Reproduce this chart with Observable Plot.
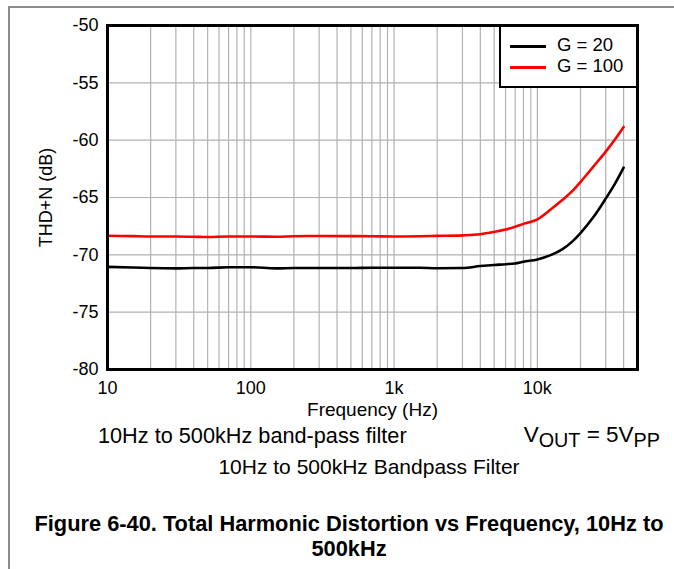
<!DOCTYPE html>
<html>
<head>
<meta charset="utf-8">
<script src="https://cdn.jsdelivr.net/npm/d3@7"></script>
<script src="https://cdn.jsdelivr.net/npm/@observablehq/plot@0.6"></script>
<style>
  body { margin: 0; background: #fff; font-family: "Liberation Sans", Arial, sans-serif; }
  #wrap { position: relative; width: 674px; height: 569px; overflow: hidden; background: #fff; }
  #border { position: absolute; left: 8px; top: 6px; right: -10px; bottom: -10px;
            border-top: 2px solid #8c8c8c; border-left: 2px solid #8c8c8c; }
  #chart { position: absolute; left: 0; top: 0; }
  .legend { position: absolute; left: 499px; top: 25px; width: 135px; height: 59px;
            border: 2px solid #000; background: #fff; }
  .legend .row { position: absolute; left: 0; height: 20px; width: 135px; }
  .legend .sw { position: absolute; left: 9px; width: 36px; height: 2.5px; top: 9px; }
  .legend .lab { position: absolute; left: 56px; top: -1px; font-size: 18.5px; line-height: 20px; color: #000; }
  .txt { position: absolute; color: #000; white-space: nowrap; }
  sub { font-size: 0.88em; vertical-align: -0.25em; }
</style>
</head>
<body>
<div id="wrap">
  <div id="border"></div>
  <div id="chart"></div>
  <div class="legend" id="legend"></div>
  <div class="txt" id="note1" style="left:98px; top:423px; font-size:21.7px;">10Hz to 500kHz band-pass filter</div>
  <div class="txt" id="note2" style="right:14px; top:422px; font-size:22.5px;">V<sub>OUT</sub> = 5V<sub>PP</sub></div>
  <div class="txt" id="note3" style="left:0; width:738px; text-align:center; top:455px; font-size:21px;">10Hz to 500kHz Bandpass Filter</div>
  <div class="txt" id="title" style="left:0; width:698px; text-align:center; top:511px; font-size:21.8px; font-weight:bold; line-height:25px;">Figure 6-40. Total Harmonic Distortion vs Frequency, 10Hz to<br>500kHz</div>
</div>
<script>
// ---- data ----
const freq = [10, 15, 20, 30, 40, 50, 70, 100, 150, 200, 300, 500, 700, 1000, 1500, 2000, 3000, 4000, 5000, 6000, 7000, 8000, 10000, 12500, 15000, 17500, 20000, 25000, 30000, 35000, 40000];
const thdG20 = [-71.05, -71.1, -71.15, -71.18, -71.15, -71.15, -71.08, -71.08, -71.18, -71.15, -71.15, -71.15, -71.12, -71.12, -71.12, -71.17, -71.15, -70.98, -70.88, -70.82, -70.75, -70.6, -70.4, -70.0, -69.5, -68.85, -68.1, -66.6, -65.1, -63.75, -62.4];
const thdG100 = [-68.33, -68.37, -68.4, -68.4, -68.42, -68.45, -68.4, -68.4, -68.42, -68.38, -68.36, -68.37, -68.38, -68.4, -68.38, -68.35, -68.3, -68.2, -68.0, -67.8, -67.55, -67.3, -66.9, -66.0, -65.2, -64.45, -63.65, -62.2, -61.0, -59.9, -58.85];
const seriesNames = ["G = 20", "G = 100"];
const seriesColors = ["#000000", "#ff0000"];
const xTicks = [10, 100, 1000, 10000];
const xTickLabels = ["10", "100", "1k", "10k"];
const yTicks = [-50, -55, -60, -65, -70, -75, -80];
const xDomain = [10, 50000];
const yDomain = [-80, -50];

// ---- build table ----
const rows = [];
freq.forEach((f, i) => {
  rows.push({f, v: thdG20[i], s: seriesNames[0]});
  rows.push({f, v: thdG100[i], s: seriesNames[1]});
});
// minor grid positions 1..9 x each decade inside domain
const gridX = [];
for (let d = 10; d <= xDomain[1]; d *= 10) {
  for (let m = 1; m <= 9; m++) { const g = d * m; if (g > xDomain[0] && g < xDomain[1]) gridX.push(g); }
}

const chart = Plot.plot({
  width: 674,
  height: 432,
  marginLeft: 107,
  marginRight: 37,
  marginTop: 25,
  marginBottom: 63,
  style: { fontFamily: "'Liberation Sans', Arial, sans-serif", color: "#000", background: "transparent" },
  x: { type: "log", domain: xDomain },
  y: { domain: yDomain },
  color: { domain: seriesNames, range: seriesColors },
  marks: [
    Plot.ruleX(gridX, { stroke: "#b2b2b2", strokeWidth: 1.2 }),
    Plot.ruleY(yTicks, { stroke: "#b2b2b2", strokeWidth: 1.2 }),
    Plot.line(rows, { x: "f", y: "v", z: "s", stroke: "s", strokeWidth: 2.6, curve: "monotone-x" }),
    Plot.frame({ stroke: "#000", strokeWidth: 3 }),
    Plot.axisX({ ticks: xTicks, tickSize: 0, tickPadding: 12, fontSize: 18,
      tickFormat: d => xTickLabels[xTicks.indexOf(d)],
      label: null }),
    Plot.axisX({ ticks: [], tickSize: 0, fontSize: 19,
      label: "Frequency (Hz)", labelAnchor: "center", labelOffset: 46, labelArrow: "none" }),
    Plot.axisY({ ticks: yTicks, tickSize: 0, tickPadding: 9, fontSize: 18,
      tickFormat: d => String(d),
      label: "THD+N (dB)", labelAnchor: "center", labelOffset: 68, labelArrow: "none" })
  ]
});
document.getElementById("chart").appendChild(chart);

// ---- legend ----
const leg = document.getElementById("legend");
seriesNames.forEach((name, i) => {
  const row = document.createElement("div");
  row.className = "row";
  row.style.top = (9 + i * 21) + "px";
  const sw = document.createElement("div");
  sw.className = "sw";
  sw.style.background = seriesColors[i];
  const lab = document.createElement("div");
  lab.className = "lab";
  lab.textContent = name;
  row.appendChild(sw); row.appendChild(lab);
  leg.appendChild(row);
});
</script>
</body>
</html>
